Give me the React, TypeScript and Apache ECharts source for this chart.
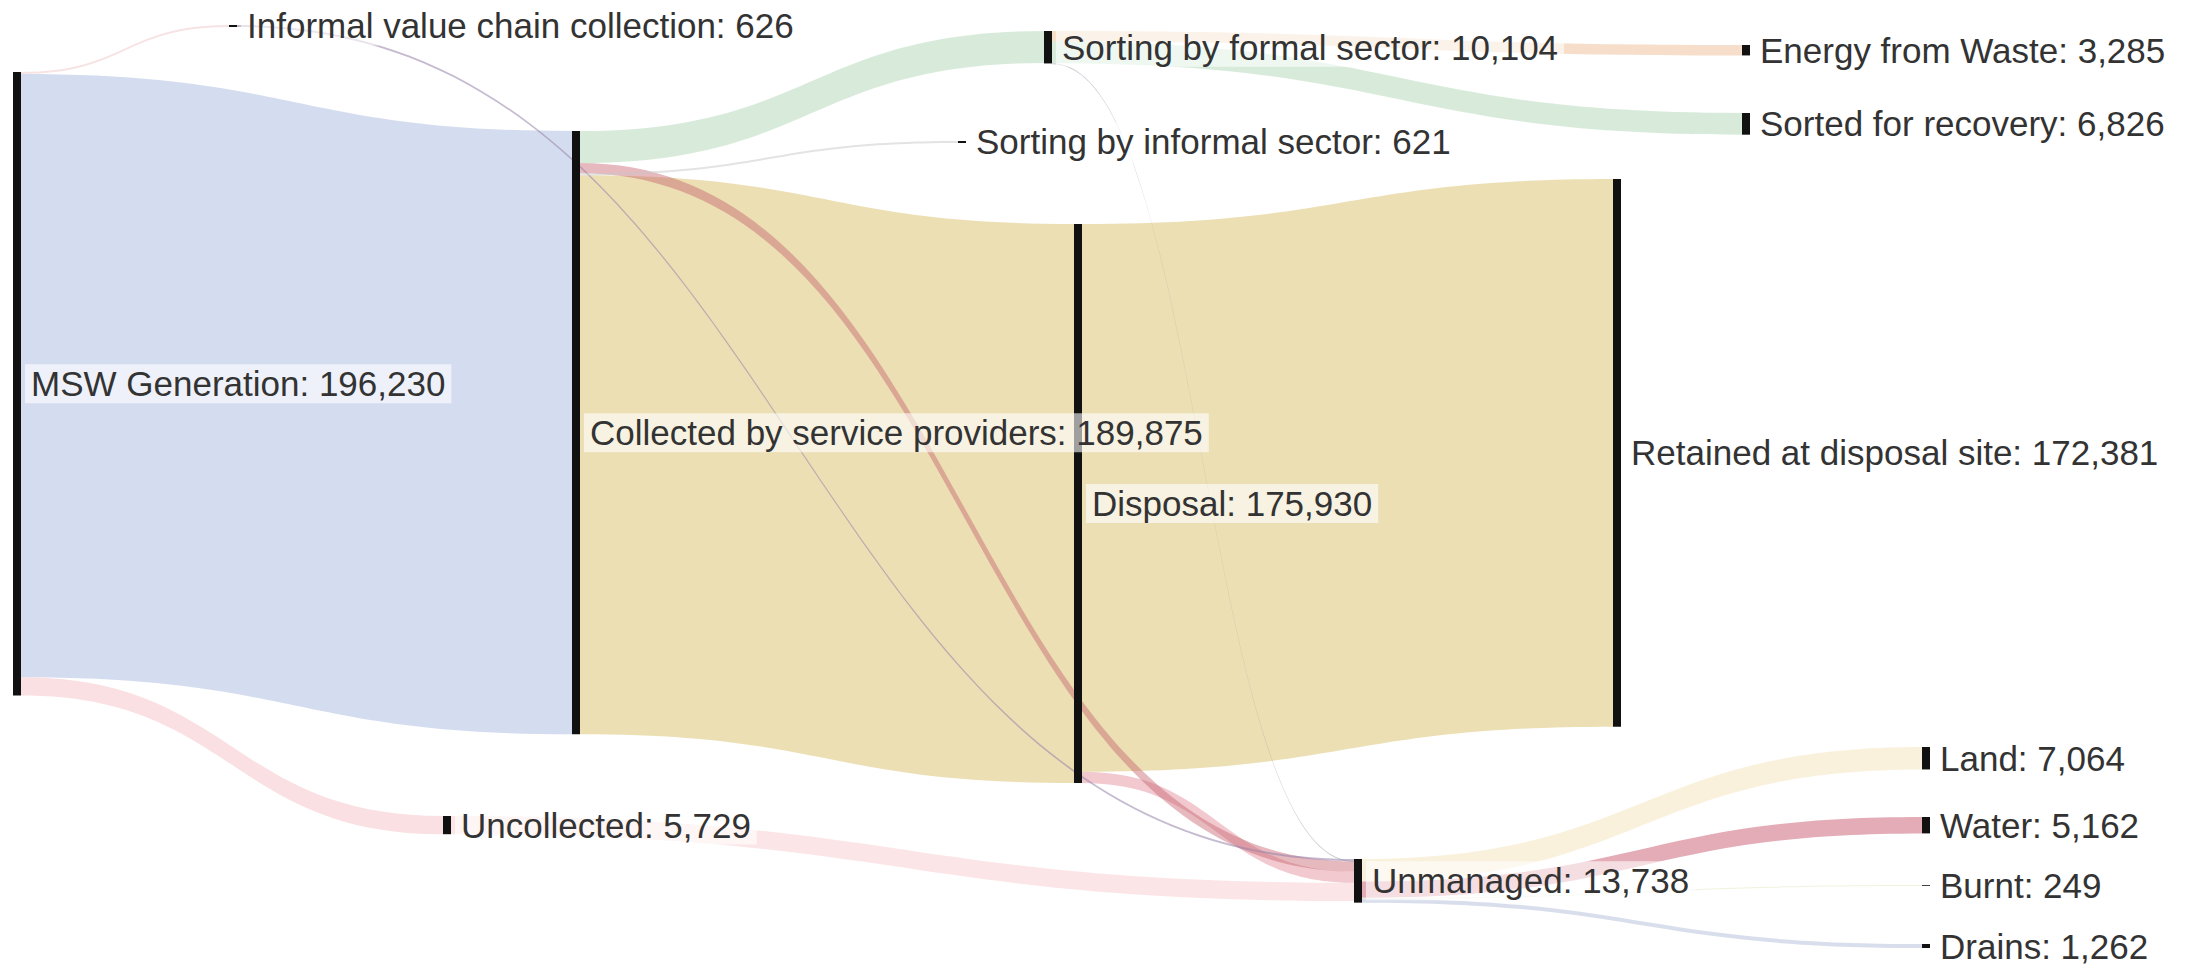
import React, { useEffect, useRef } from 'react';
import * as echarts from 'echarts';

// ---- Data ----
const nodeNames = [
  'MSW Generation',
  'Informal value chain collection',
  'Collected by service providers',
  'Uncollected',
  'Sorting by formal sector',
  'Sorting by informal sector',
  'Disposal',
  'Energy from Waste',
  'Sorted for recovery',
  'Unmanaged',
  'Retained at disposal site',
  'Land',
  'Water',
  'Burnt',
  'Drains',
];
const nodeValues = [196230, 626, 189875, 5729, 10104, 621, 175930, 3285, 6826, 13738, 172381, 7064, 5162, 249, 1262];

const linkSource = [
  'MSW Generation',
  'Collected by service providers',
  'Disposal',
  'MSW Generation',
  'Uncollected',
  'Collected by service providers',
  'Sorting by formal sector',
  'Sorting by formal sector',
  'Unmanaged',
  'Unmanaged',
  'Unmanaged',
  'Unmanaged',
  'Disposal',
  'Collected by service providers',
  'MSW Generation',
  'Informal value chain collection',
  'Sorting by formal sector',
  'Collected by service providers',
];
const linkTarget = [
  'Collected by service providers',
  'Disposal',
  'Retained at disposal site',
  'Uncollected',
  'Unmanaged',
  'Sorting by formal sector',
  'Sorted for recovery',
  'Energy from Waste',
  'Land',
  'Water',
  'Burnt',
  'Drains',
  'Unmanaged',
  'Unmanaged',
  'Informal value chain collection',
  'Unmanaged',
  'Unmanaged',
  'Sorting by informal sector',
];
const linkValue = [189875, 175930, 172381, 5729, 5729, 10104, 6826, 3285, 7064, 5162, 249, 1262, 3549, 3220, 626, 626, 100, 621];

// ---- Layout / style (not data) ----
const nodeColumn = [0, 1, 1, 1, 2, 2, 2, 3, 3, 3, 4, 4, 4, 4, 4];
const nodePosX = [13, 229, 572, 443, 1044, 958, 1074, 1742, 1742, 1354, 1613, 1922, 1922, 1922, 1922];
const nodePosY = [72, 25, 131, 816, 31, 141, 224, 45, 113, 859, 179, 747, 817, 885, 944];
const linkColors = [
  'rgba(197,208,234,0.75)',
  'rgba(230,212,155,0.75)',
  'rgba(230,212,155,0.75)',
  'rgba(240,160,168,0.33)',
  'rgba(245,170,175,0.3)',
  'rgba(190,222,195,0.6)',
  'rgba(190,222,195,0.6)',
  'rgba(238,190,150,0.5)',
  'rgba(245,225,180,0.45)',
  'rgba(200,90,110,0.5)',
  'rgba(225,230,190,0.5)',
  'rgba(180,190,220,0.5)',
  'rgba(220,120,135,0.4)',
  'rgba(200,100,110,0.45)',
  'rgba(240,200,200,0.5)',
  'rgba(150,130,170,0.55)',
  'rgba(150,150,170,0.5)',
  'rgba(200,200,200,0.5)',
];

const W = 2205;
const H = 623.5;

export default function App() {
  const ref = useRef<HTMLDivElement>(null);
  useEffect(() => {
    const chart = echarts.init(ref.current!, null, { renderer: 'svg' });
    const fmt = (v: number) => v.toLocaleString('en-US');
    const data = nodeNames.map((name, i) => ({
      name,
      value: nodeValues[i],
      depth: nodeColumn[i],
      localX: nodePosX[i] / W,
      localY: nodePosY[i] / H,
      label: { formatter: `${name}: ${fmt(nodeValues[i])}` },
    }));
    const links = linkSource.map((s, i) => ({
      source: s,
      target: linkTarget[i],
      value: linkValue[i],
      lineStyle: { color: linkColors[i], opacity: 1 },
    }));
    chart.setOption({
      animation: false,
      backgroundColor: '#ffffff',
      tooltip: { show: false },
      series: [
        {
          type: 'sankey',
          left: 0,
          top: 0,
          width: W,
          height: H,
          nodeWidth: 8,
          nodeGap: 0,
          layoutIterations: 0,
          nodeAlign: 'left',
          draggable: false,
          emphasis: { disabled: true },
          itemStyle: { color: '#111111', borderWidth: 0 },
          lineStyle: { curveness: 0.5, opacity: 1 },
          label: {
            show: true,
            position: 'right',
            distance: 4,
            fontFamily: 'Liberation Sans, Arial, sans-serif',
            fontSize: 35,
            color: '#333333',
            backgroundColor: 'rgba(255,255,255,0.6)',
            padding: [2, 6],
          },
          data,
          links,
        },
      ],
    });
    return () => chart.dispose();
  }, []);
  return (
    <div
      ref={ref}
      style={{ position: 'absolute', left: 0, top: 0, width: 2205, height: 969, background: '#fff' }}
    />
  );
}
